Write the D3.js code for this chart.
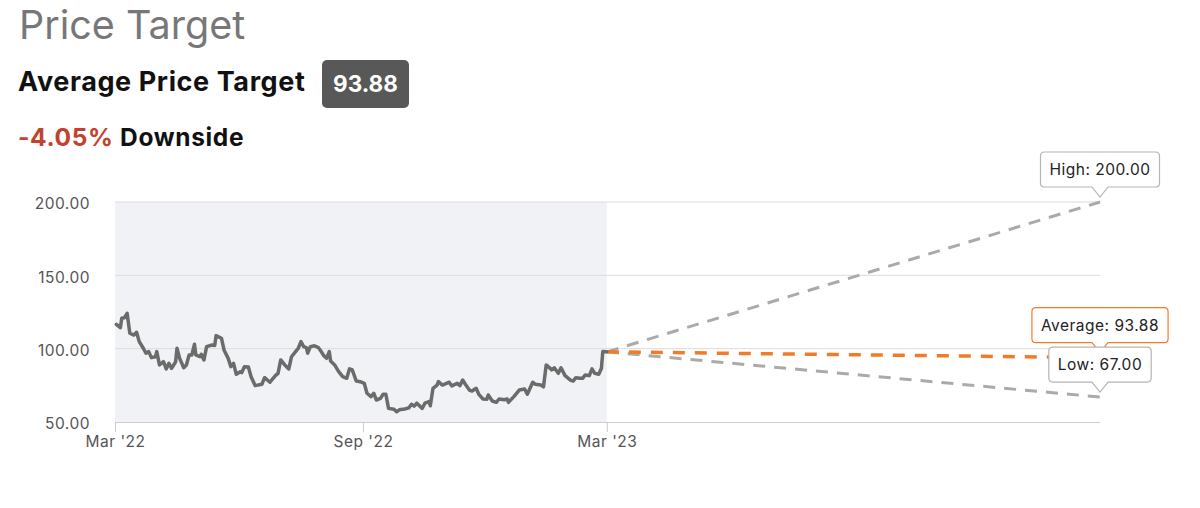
<!DOCTYPE html>
<html>
<head>
<meta charset="utf-8">
<script src="https://cdn.jsdelivr.net/npm/d3@7"></script>
<style>
  html, body { margin: 0; padding: 0; background: #fff; }
  svg { display: block; font-family: Inter, "Liberation Sans", sans-serif; }
</style>
</head>
<body>
<svg id="chart" width="1200" height="508"></svg>
<script>
// ---------- data ----------
const priceDates = [
  "2022-03-02","2022-03-05","2022-03-06","2022-03-08","2022-03-10","2022-03-12","2022-03-15","2022-03-17","2022-03-19","2022-03-22",
  "2022-03-24","2022-03-26","2022-03-28","2022-03-31","2022-04-01","2022-04-03","2022-04-06","2022-04-08","2022-04-10","2022-04-12",
  "2022-04-15","2022-04-16","2022-04-18","2022-04-21","2022-04-23","2022-04-25","2022-04-27","2022-04-29","2022-04-30","2022-05-03",
  "2022-05-04","2022-05-06","2022-05-08","2022-05-12","2022-05-14","2022-05-15","2022-05-19","2022-05-21","2022-05-24","2022-05-26",
  "2022-05-28","2022-05-30","2022-06-02","2022-06-03","2022-06-05","2022-06-08","2022-06-10","2022-06-13","2022-06-18","2022-06-20",
  "2022-06-24","2022-06-28","2022-06-30","2022-07-02","2022-07-05","2022-07-08","2022-07-10","2022-07-13","2022-07-15","2022-07-17",
  "2022-07-19","2022-07-21","2022-07-22","2022-07-24","2022-07-27","2022-07-30","2022-08-01","2022-08-03","2022-08-05","2022-08-07",
  "2022-08-08","2022-08-11","2022-08-14","2022-08-17","2022-08-20","2022-08-22","2022-08-24","2022-08-27","2022-08-30","2022-09-02",
  "2022-09-04","2022-09-07","2022-09-09","2022-09-11","2022-09-14","2022-09-16","2022-09-18","2022-09-20","2022-09-24","2022-09-26",
  "2022-09-28","2022-10-02","2022-10-05","2022-10-07","2022-10-09","2022-10-11","2022-10-15","2022-10-17","2022-10-20","2022-10-21",
  "2022-10-23","2022-10-26","2022-10-27","2022-10-30","2022-11-02","2022-11-04","2022-11-06","2022-11-10","2022-11-12","2022-11-14",
  "2022-11-16","2022-11-19","2022-11-21","2022-11-24","2022-11-26","2022-11-29","2022-12-02","2022-12-03","2022-12-06","2022-12-09",
  "2022-12-11","2022-12-15","2022-12-17","2022-12-18","2022-12-22","2022-12-26","2022-12-30","2023-01-01","2023-01-05","2023-01-07",
  "2023-01-11","2023-01-13","2023-01-15","2023-01-18","2023-01-19","2023-01-21","2023-01-24","2023-01-26","2023-01-29","2023-02-02",
  "2023-02-04","2023-02-06","2023-02-09","2023-02-11","2023-02-13","2023-02-16","2023-02-18","2023-02-20","2023-02-23","2023-02-25",
  "2023-02-26","2023-03-01"
];
const priceValues = [
  116.6,114.3,120.7,121.1,124.1,110.5,109.3,111.2,104.8,100.3,
  96.9,98.0,93.9,94.5,98.0,88.9,91.1,86.2,90.0,86.6,
  91.1,100.3,93.4,87.0,88.9,95.7,95.7,103.0,95.7,94.5,
  96.2,92.3,101.4,102.5,102.2,108.9,107.1,98.9,93.4,87.7,
  90.0,82.5,84.3,83.6,87.7,87.5,80.9,74.8,75.7,80.2,
  77.1,81.6,83.2,92.3,88.9,86.2,94.5,98.0,100.3,104.8,
  101.4,100.7,96.9,101.4,102.0,100.7,98.0,95.2,93.4,98.0,
  91.6,88.9,84.3,80.9,79.8,86.2,85.7,78.0,77.5,76.4,
  69.6,67.3,69.6,65.0,66.1,68.9,68.9,59.3,58.7,57.0,
  58.3,58.9,59.6,62.1,60.8,62.8,59.3,62.8,63.9,61.1,
  73.0,75.2,77.5,75.2,76.4,77.1,74.6,76.4,74.8,78.6,
  75.7,71.8,71.1,73.0,68.9,65.7,65.5,68.4,64.3,63.4,
  65.7,65.2,65.7,63.4,67.3,71.8,72.5,68.9,77.1,75.7,
  75.2,74.0,88.9,86.6,85.5,87.0,83.2,87.0,81.6,78.6,
  77.9,80.2,79.8,79.8,82.1,81.6,86.2,83.2,82.5,86.6,
  98.0,97.84
];
const targetNames  = ["High", "Average", "Low"];
const targetValues = [200.00, 93.88, 67.00];
const targetDate   = "2024-03-01";
const averageTarget = 93.88;
const upsidePct     = -4.05;
const yTickValues  = [50, 100, 150, 200];
const xTickDates   = ["2022-03-01", "2022-09-01", "2023-03-01"];
const xTickLabels  = ["Mar '22", "Sep '22", "Mar '23"];

// ---------- setup ----------
const parse = d3.timeParse("%Y-%m-%d");
const series = priceDates.map((d, i) => ({ date: parse(d), value: priceValues[i] }));
const lastPoint = series[series.length - 1];

const svg = d3.select("#chart");
const plotL = 115, plotR = 1100, plotT = 202, plotB = 422;
const FONT = "Inter, 'Liberation Sans', sans-serif";

const x = d3.scaleTime()
  .domain([parse("2022-03-01"), parse(targetDate)])
  .range([plotL, plotR]);
const y = d3.scaleLinear().domain([50, 200]).range([plotB, plotT]);

// ---------- header ----------
svg.append("text").attr("x", 19).attr("y", 39)
  .attr("font-size", 39.5).attr("fill", "#777").text("Price Target");

svg.append("text").attr("x", 18).attr("y", 91)
  .attr("font-size", 27).attr("font-weight", 700).attr("fill", "#111")
  .attr("letter-spacing", 0.6)
  .text("Average Price Target");

const badge = svg.append("g");
badge.append("rect").attr("x", 322).attr("y", 60).attr("width", 87).attr("height", 48)
  .attr("rx", 5).attr("fill", "#585858");
badge.append("text").attr("x", 322 + 87 / 2).attr("y", 92).attr("text-anchor", "middle")
  .attr("font-size", 22.5).attr("font-weight", 700).attr("fill", "#fff")
  .text(averageTarget.toFixed(2));

const down = svg.append("text").attr("x", 18).attr("y", 146)
  .attr("font-size", 24.5).attr("font-weight", 700).attr("letter-spacing", 0.65);
down.append("tspan").attr("fill", "#c0432f").text(upsidePct.toFixed(2) + "%");
down.append("tspan").attr("fill", "#111").text(" Downside");

// ---------- plot background ----------
svg.append("rect")
  .attr("x", x(parse(xTickDates[0]))).attr("y", plotT)
  .attr("width", x(lastPoint.date) - x(parse(xTickDates[0])))
  .attr("height", plotB - plotT)
  .attr("fill", "#f1f2f6");

// gridlines
svg.append("g").selectAll("line").data(yTickValues.filter(v => v > 50)).join("line")
  .attr("x1", plotL).attr("x2", plotR)
  .attr("y1", d => y(d)).attr("y2", d => y(d))
  .attr("stroke", "#dcdcdc").attr("stroke-width", 1);

// y axis labels
const yAxis = svg.append("g").attr("transform", `translate(${plotL},0)`)
  .call(d3.axisLeft(y).tickValues(yTickValues).tickFormat(d3.format(".2f")).tickSize(0).tickPadding(25));
yAxis.select(".domain").remove();
yAxis.selectAll("text").attr("font-size", 15.5).attr("fill", "#555").attr("letter-spacing", 0.5)
  .attr("font-family", FONT).attr("dy", "0.45em");

// x axis
const xAxis = svg.append("g").attr("transform", `translate(0,${plotB})`)
  .call(d3.axisBottom(x).tickValues(xTickDates.map(parse))
    .tickFormat((d, i) => xTickLabels[i]).tickSize(10).tickPadding(4));
xAxis.select(".domain").attr("d", `M${plotL},0.5H${plotR}`).attr("stroke", "#cccccc");
xAxis.selectAll(".tick line").attr("stroke", "#cccccc");
xAxis.selectAll("text").attr("font-size", 15.5).attr("fill", "#555").attr("letter-spacing", 0.5)
  .attr("font-family", FONT);

// ---------- projection lines ----------
const projColors = ["#aaaaaa", "#f07c2a", "#aaaaaa"];
const projWidths = [3, 3.5, 3];
const projDash   = ["12,9", "12,10", "12,9"];
[0, 2, 1].forEach(i => {
  svg.append("line")
    .attr("x1", x(lastPoint.date)).attr("y1", y(lastPoint.value))
    .attr("x2", x(parse(targetDate))).attr("y2", y(targetValues[i]))
    .attr("stroke", projColors[i]).attr("stroke-width", projWidths[i])
    .attr("stroke-dasharray", projDash[i]);
});

// ---------- price line ----------
const line = d3.line().x(d => x(d.date)).y(d => y(d.value)).curve(d3.curveLinear);
svg.append("path").datum(series)
  .attr("d", line).attr("fill", "none")
  .attr("stroke", "#6b6b6b").attr("stroke-width", 3.5)
  .attr("stroke-linejoin", "round").attr("stroke-linecap", "round");

// ---------- target labels ----------
const labelBorder = ["#b5b5b5", "#f07c2a", "#b5b5b5"];
[0, 1, 2].forEach(i => {
  const px = x(parse(targetDate)), py = y(targetValues[i]);
  const g = svg.append("g");
  const t = g.append("text").attr("font-size", 15.5).attr("fill", "#222")
    .attr("letter-spacing", 0.5).attr("text-anchor", "middle")
    .text(`${targetNames[i]}: ${targetValues[i].toFixed(2)}`);
  const w = t.node().getComputedTextLength() + 18;
  const h = 35, bot = py - 15, tip = py - 5, hw = 8;
  const l = px - w / 2, r = px + w / 2, tp = bot - h, rr = 4;
  const p = `M${l + rr},${tp}H${r - rr}Q${r},${tp} ${r},${tp + rr}V${bot - rr}Q${r},${bot} ${r - rr},${bot}` +
            `H${px + hw}L${px},${tip}L${px - hw},${bot}H${l + rr}Q${l},${bot} ${l},${bot - rr}V${tp + rr}Q${l},${tp} ${l + rr},${tp}Z`;
  g.insert("path", "text").attr("d", p).attr("fill", "#fff")
    .attr("stroke", labelBorder[i]).attr("stroke-width", 1.2);
  t.attr("x", px).attr("y", tp + h / 2 + 5.5);
});
</script>
</body>
</html>
